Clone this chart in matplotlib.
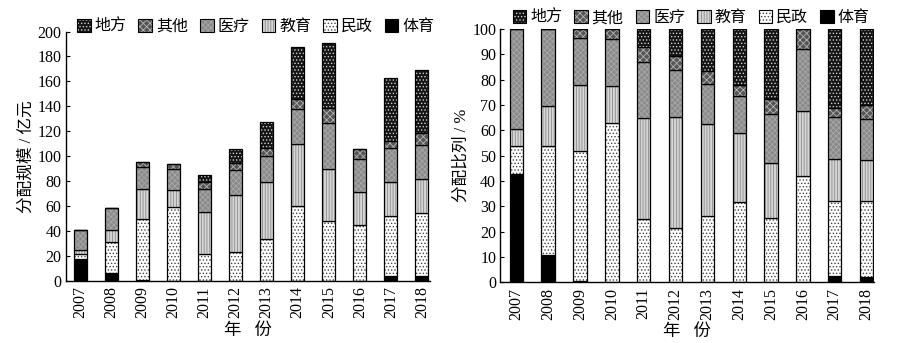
import numpy as np
import matplotlib
matplotlib.use('Agg')
import matplotlib.pyplot as plt
from matplotlib.patches import Patch
from matplotlib.legend_handler import HandlerTuple

plt.rcParams['font.family'] = ['Liberation Serif', 'Noto Sans CJK SC']
plt.rcParams['hatch.linewidth'] = 0.6

years = ['2007', '2008', '2009', '2010', '2011', '2012',
         '2013', '2014', '2015', '2016', '2017', '2018']

# 分配规模, 亿元 (stack order bottom -> top)
tiyu   = [17.3, 6.4, 0.6, 0, 0, 0, 0, 0, 0, 0, 3.8, 3.6]
minzheng = [4.5, 25.2, 48.8, 58.9, 21.4, 22.8, 33.5, 59.8, 48.2, 44.5, 48.2, 51.0]
jiaoyu = [2.8, 9.4, 24.7, 13.7, 33.8, 45.9, 46.0, 50.4, 41.7, 26.8, 27.3, 26.9]
yiliao = [15.9, 17.8, 17.6, 17.2, 18.8, 19.9, 20.5, 27.5, 37.1, 26.1, 27.1, 27.5]
qita   = [0, 0, 3.3, 3.7, 5.0, 5.8, 6.4, 8.3, 11.4, 8.1, 5.6, 9.4]
difang = [0, 0, 0, 0, 6.0, 11.1, 21.0, 41.4, 52.5, 0, 50.5, 50.8]

names = ['体育', '民政', '教育', '医疗', '其他', '地方']
series = [tiyu, minzheng, jiaoyu, yiliao, qita, difang]
# (face, hatch, hatch colour)
styles = [
    ('black', '', 'black'),
    ('white', '.....', '#444444'),
    ('#d6d6d6', '||||||', '#8a8a8a'),
    ('#8a8a8a', 'xxxxxx', '#a8a8a8'),
    ('#555555', 'xxxxx', '#b4b4b4'),
    ('#151515', '.....', '#d0d0d0'),
]

vals = np.array(series, dtype=float)
pct = vals / vals.sum(axis=0) * 100

fig = plt.figure(figsize=(9, 3.43), dpi=100)
ax1 = fig.add_axes([0.073, 0.181, 0.405, 0.727])
ax2 = fig.add_axes([0.556, 0.177, 0.415, 0.738])

x = np.arange(len(years))
w = 0.42


def draw(ax, data):
    bottom = np.zeros(len(years))
    for row, (fc, h, hc) in zip(data, styles):
        ax.bar(x, row, w, bottom=bottom, color=fc, hatch=h, edgecolor=hc, linewidth=0)
        ax.bar(x, row, w, bottom=bottom, fill=False, edgecolor='black', linewidth=0.9)
        bottom += row
    for s in ['top', 'right']:
        ax.spines[s].set_visible(False)
    ax.spines['left'].set_linewidth(1.0)
    ax.spines['bottom'].set_linewidth(1.0)
    ax.set_xticks(x)
    ax.set_xticklabels(years, rotation=90, fontsize=11.5)
    ax.tick_params(axis='x', length=0, pad=4)
    ax.tick_params(axis='y', direction='in', length=3, labelsize=11.5, pad=3)
    ax.set_xlabel('年   份', fontsize=12.5, labelpad=3)


draw(ax1, vals)
ax1.set_xlim(-0.48, 11.27)
ax1.set_ylim(0, 200)
ax1.set_yticks(range(0, 201, 20))
ax1.set_ylabel('分配规模 / 亿元', fontsize=12, labelpad=2)

draw(ax2, pct)
ax2.set_xlim(-0.5, 11.23)
ax2.set_ylim(0, 100)
ax2.set_yticks(range(0, 101, 10))
ax2.set_ylabel('分配比列 / %', fontsize=12, labelpad=2)

handles = []
for (fc, h, hc) in styles[::-1]:
    handles.append((Patch(facecolor=fc, hatch=h, edgecolor=hc, linewidth=0),
                    Patch(fill=False, edgecolor='black', linewidth=0.8)))
labels = names[::-1]
for cx, cy in [(0.284, 0.922), (0.768, 0.947)]:
    fig.legend(handles, labels, loc='center', bbox_to_anchor=(cx, cy), ncol=6,
               frameon=False, fontsize=11.5, handlelength=0.85, handleheight=0.85,
               handletextpad=0.25, columnspacing=0.75, borderpad=0,
               handler_map={tuple: HandlerTuple(ndivide=1, pad=0)})

fig.savefig('out.png', dpi=100)
